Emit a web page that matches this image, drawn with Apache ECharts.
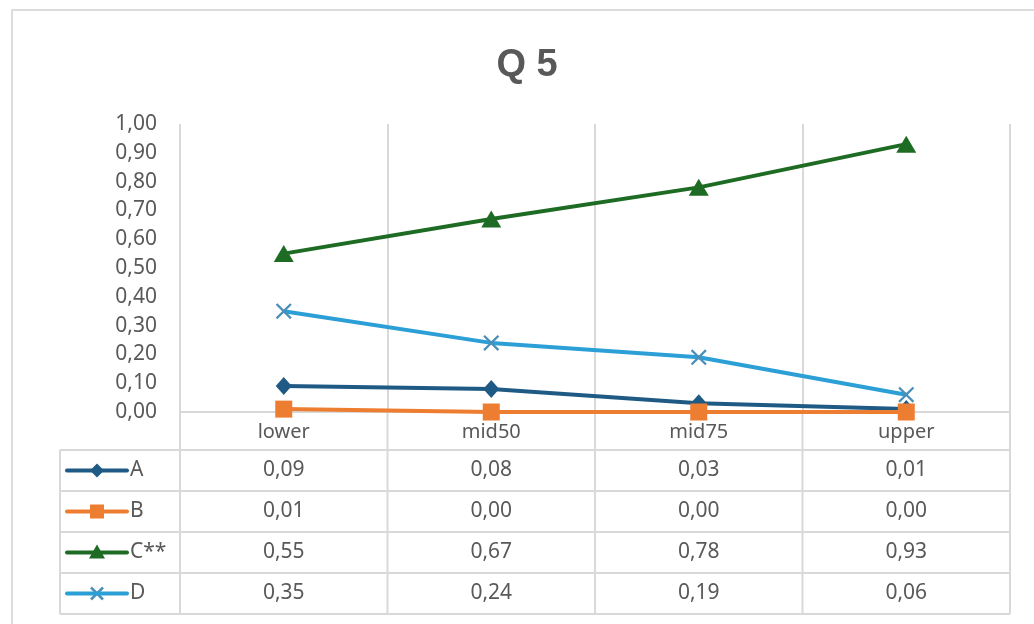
<!DOCTYPE html>
<html><head><meta charset="utf-8">
<script src="https://cdn.jsdelivr.net/npm/echarts@6/dist/echarts.min.js"></script>
<style>html,body{margin:0;padding:0;background:#fff}#c{width:1034px;height:624px}</style>
</head><body><div id="c"></div>
<script>
const categories = ['lower', 'mid50', 'mid75', 'upper'];
const seriesNames = ['A', 'B', 'C**', 'D'];
const valuesA = [0.09, 0.08, 0.03, 0.01];
const valuesB = [0.01, 0.00, 0.00, 0.00];
const valuesC = [0.55, 0.67, 0.78, 0.93];
const valuesD = [0.35, 0.24, 0.19, 0.06];
const chartTitle = 'Q 5';

const allValues = [valuesA, valuesB, valuesC, valuesD];
const colors = ['#1f5a85', '#ed7d31', '#1e6b24', '#2b9fd6'];
const xPath = 'path://M1,0 L5,4 L9,0 L10,1 L6,5 L10,9 L9,10 L5,6 L1,10 L0,9 L4,5 L0,1 Z';
const symbols = ['diamond', 'rect', 'triangle', xPath];
const symbolSizes = [[16, 18], 17, [20, 17], 16];
const symbolColors = ['#1f5a85', '#ed7d31', '#1e6b24', '#4a8fb8'];
const fmt = v => v.toFixed(2).replace('.', ',');
const gridCol = '#d9d9d9';
const txtCol = '#595959';
const fontFam = '"Noto Sans", "Open Sans", sans-serif';

const chart = echarts.init(document.getElementById('c'));
const option = {
  animation: false,
  backgroundColor: '#fff',
  title: {
    text: chartTitle, left: 522, top: 42, textAlign: 'center',
    textStyle: { fontSize: 38, fontWeight: 'bold', color: txtCol, fontFamily: '"Liberation Sans Narrow", "Liberation Sans", Arial, sans-serif' }
  },
  grid: { left: 180, top: 124, width: 830, height: 288, containLabel: false },
  xAxis: {
    type: 'category', data: categories, boundaryGap: true,
    axisLine: { show: true, lineStyle: { color: gridCol, width: 2 } },
    axisTick: { show: false },
    axisLabel: { color: txtCol, fontSize: 20, fontFamily: fontFam, margin: 10 },
    splitLine: { show: true, interval: 0, lineStyle: { color: gridCol, width: 2 } }
  },
  yAxis: {
    type: 'value', min: 0, max: 1, interval: 0.1,
    axisLine: { show: false }, axisTick: { show: false },
    splitLine: { show: false },
    axisLabel: { color: txtCol, fontSize: 21, fontFamily: fontFam, margin: 23, formatter: v => fmt(v) }
  },
  series: allValues.map((vals, i) => ({
    name: seriesNames[i], type: 'line', data: vals,
    symbol: symbols[i], symbolSize: symbolSizes[i], showSymbol: true,
    lineStyle: { color: colors[i], width: 4 },
    itemStyle: { color: symbolColors[i], borderWidth: 0 },
    z: 3 + i
  }))
};
chart.setOption(option);

// Data table built from axis pixel positions
const centers = categories.map(c => chart.convertToPixel({ xAxisIndex: 0 }, c));
const band = centers[1] - centers[0];
const bounds = [centers[0] - band / 2].concat(centers.map(c => c + band / 2));
const zeroY = chart.convertToPixel({ yAxisIndex: 0 }, 0);
const headerH = 38, rowH = 41, legendLeft = 60;
const tableTop = zeroY + headerH;
const tableBottom = tableTop + rowH * seriesNames.length;
const g = [];
g.push({ type: 'rect', shape: { x: 12, y: 10, width: 1060, height: 640 }, style: { fill: null, stroke: '#dcdcdc', lineWidth: 2 }, z: 0 });
bounds.forEach(x => g.push({ type: 'line', shape: { x1: x, y1: zeroY, x2: x, y2: tableBottom }, style: { stroke: gridCol, lineWidth: 2 } }));
g.push({ type: 'line', shape: { x1: legendLeft, y1: tableTop, x2: legendLeft, y2: tableBottom }, style: { stroke: gridCol, lineWidth: 2 } });
for (let r = 0; r <= seriesNames.length; r++) {
  const y = tableTop + r * rowH;
  g.push({ type: 'line', shape: { x1: legendLeft, y1: y, x2: bounds[bounds.length - 1], y2: y }, style: { stroke: gridCol, lineWidth: 2 } });
}
seriesNames.forEach((name, i) => {
  const cy = tableTop + rowH * i + rowH / 2;
  g.push({ type: 'line', shape: { x1: 67, y1: cy, x2: 127, y2: cy }, style: { stroke: colors[i], lineWidth: 4, lineCap: 'round' }, z: 10 });
  const mx = 97;
  let mk;
  if (i === 0) mk = { type: 'polygon', shape: { points: [[mx, cy - 7], [mx + 7, cy], [mx, cy + 7], [mx - 7, cy]] }, style: { fill: symbolColors[i] } };
  else if (i === 1) mk = { type: 'rect', shape: { x: mx - 7, y: cy - 7, width: 14, height: 14 }, style: { fill: symbolColors[i] } };
  else if (i === 2) mk = { type: 'polygon', shape: { points: [[mx, cy - 8], [mx + 8, cy + 6], [mx - 8, cy + 6]] }, style: { fill: symbolColors[i] } };
  else mk = { type: 'group', children: [
    { type: 'line', shape: { x1: mx - 6, y1: cy - 6, x2: mx + 6, y2: cy + 6 }, style: { stroke: symbolColors[i], lineWidth: 2.5 } },
    { type: 'line', shape: { x1: mx + 6, y1: cy - 6, x2: mx - 6, y2: cy + 6 }, style: { stroke: symbolColors[i], lineWidth: 2.5 } }
  ] };
  mk.z = 11;
  g.push(mk);
  g.push({ type: 'text', x: 130, y: cy, style: { text: name, fill: txtCol, fontSize: 21, fontFamily: fontFam, textAlign: 'left', textVerticalAlign: 'middle' }, z: 11 });
  allValues[i].forEach((v, j) => {
    g.push({ type: 'text', x: centers[j], y: cy, style: { text: fmt(v), fill: txtCol, fontSize: 21, fontFamily: fontFam, textAlign: 'center', textVerticalAlign: 'middle' }, z: 11 });
  });
});
chart.setOption({ graphic: g });
</script>
</body></html>
